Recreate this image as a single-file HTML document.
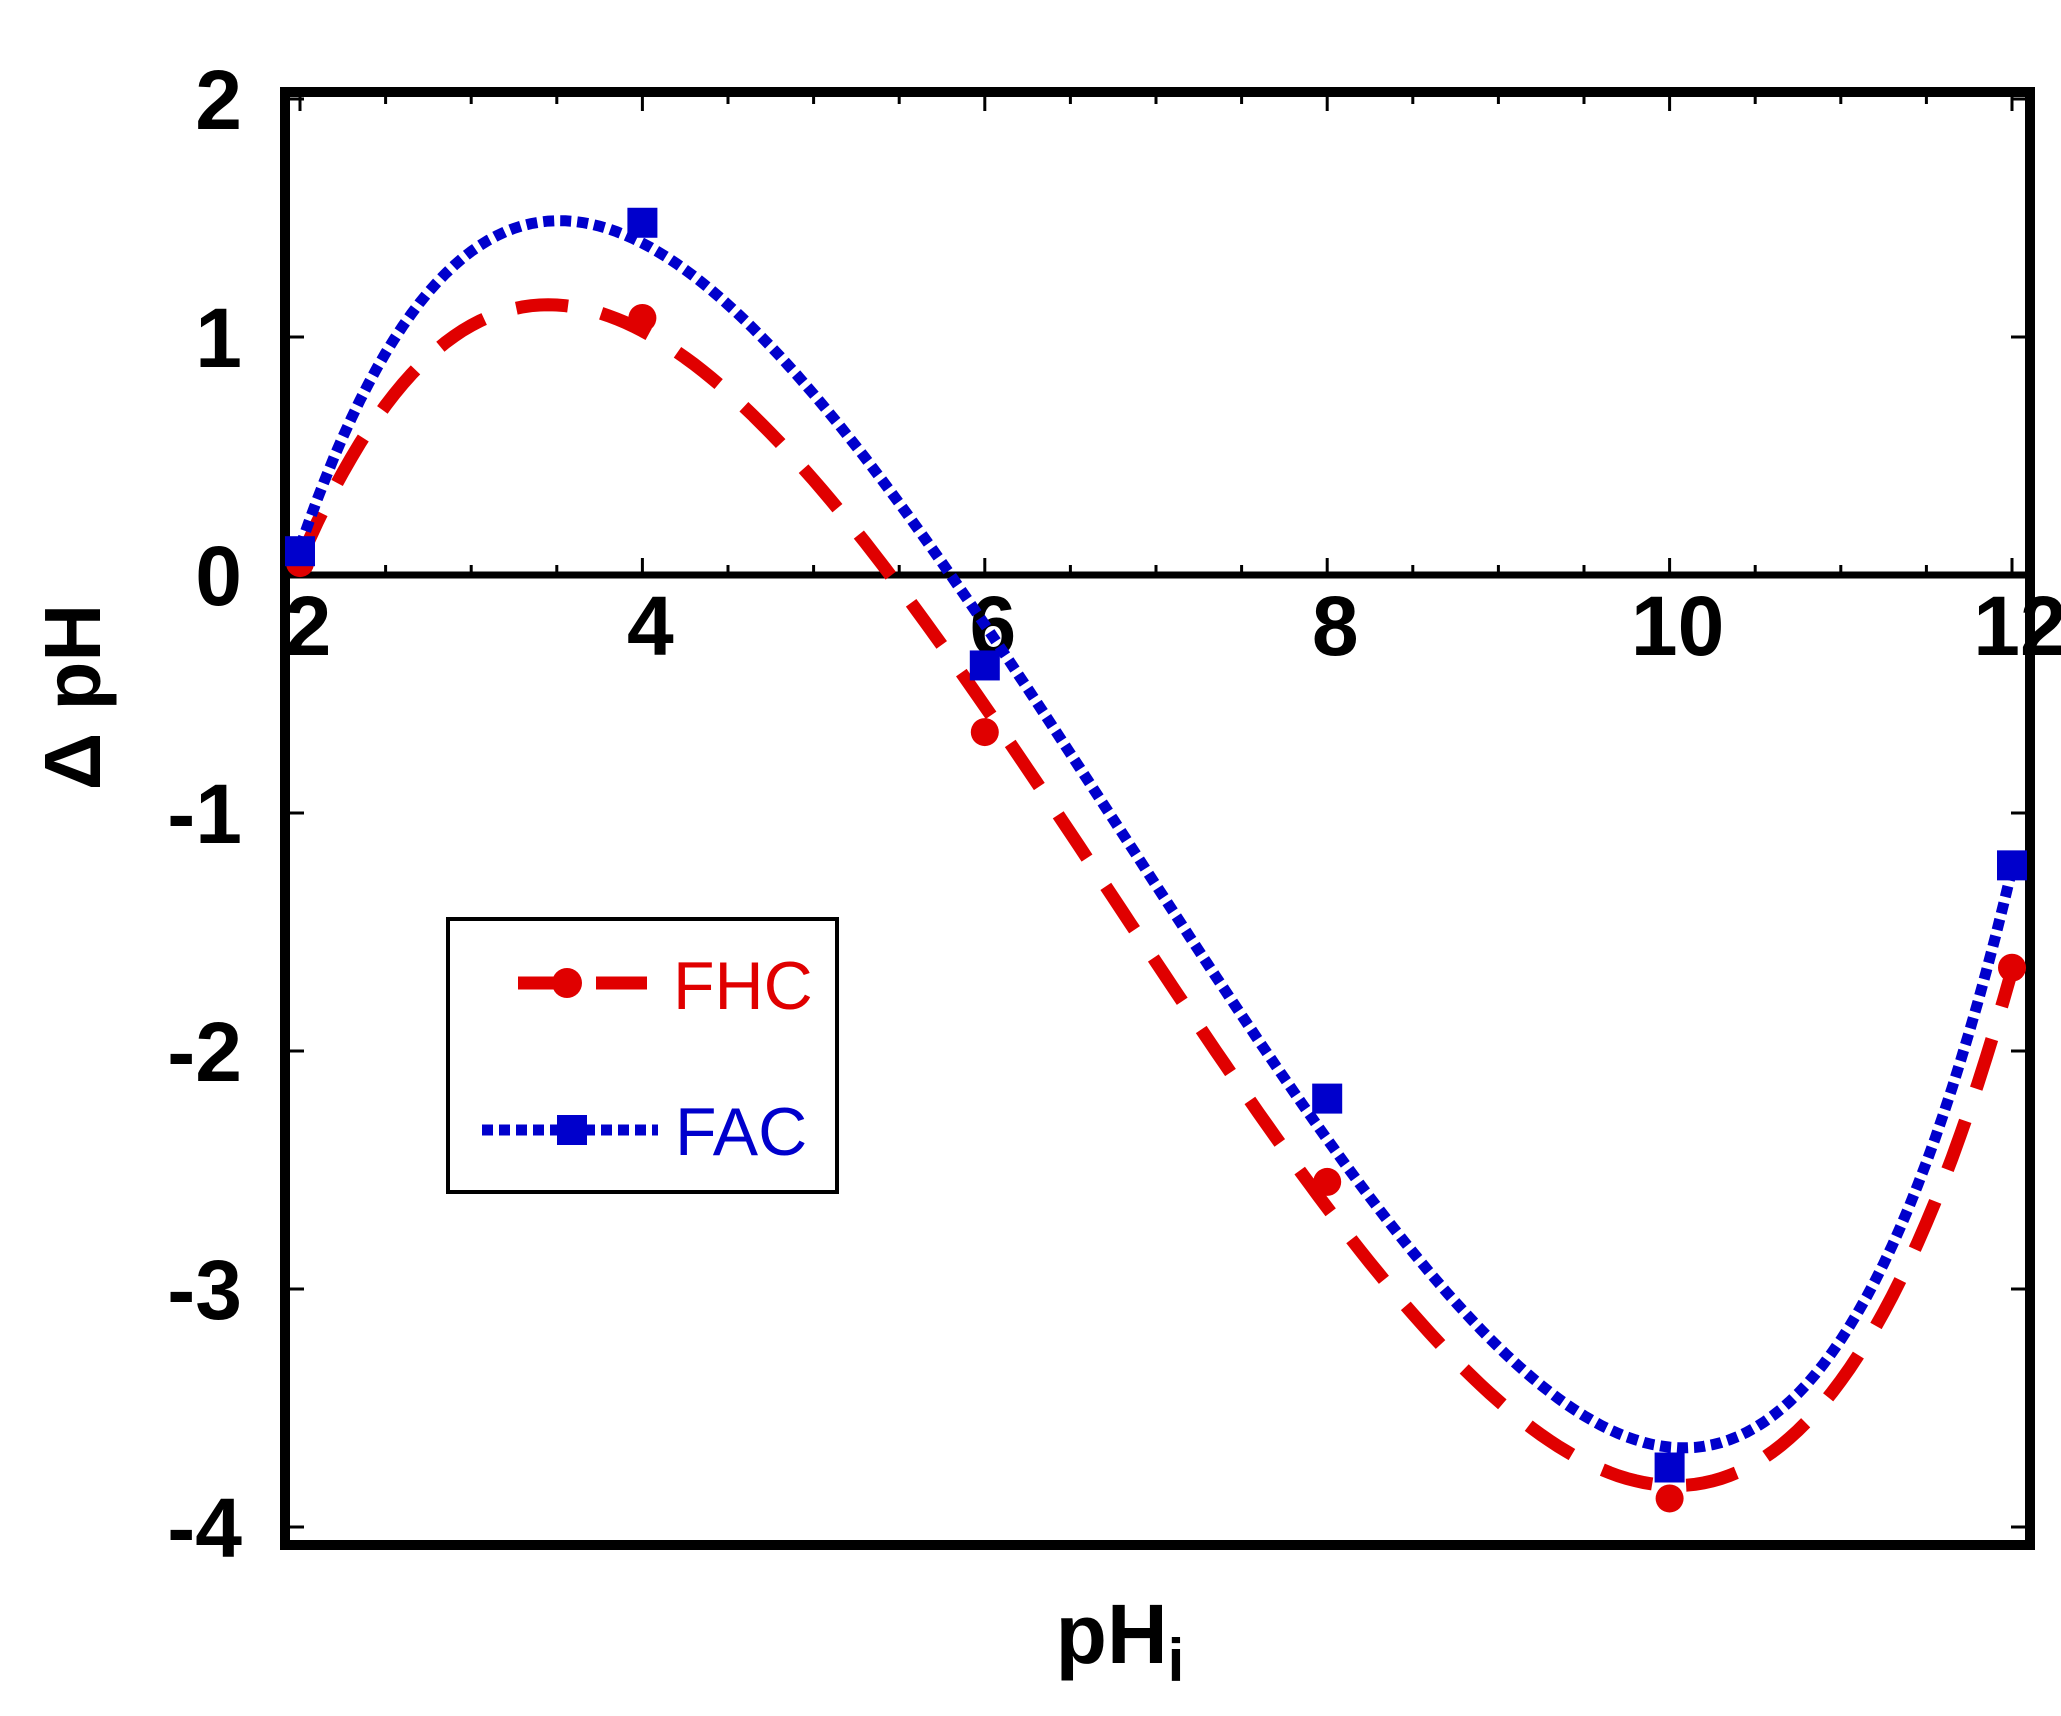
<!DOCTYPE html>
<html><head><meta charset="utf-8"><style>
html,body{margin:0;padding:0;background:#fff;}
svg{display:block;font-family:"Liberation Sans",Arial,sans-serif;}
</style></head><body>
<svg id="chart" width="2061" height="1716" viewBox="0 0 2061 1716" xmlns="http://www.w3.org/2000/svg">
<rect width="2061" height="1716" fill="#fff"/>
<g id="plot"></g>
</svg>
<script>
const xTicks = [2, 4, 6, 8, 10, 12];
const yTicks = [2, 1, 0, -1, -2, -3, -4];
const xValues = [2, 4, 6, 8, 10, 12];
const fhcValues = [0.05, 1.08, -0.66, -2.55, -3.88, -1.65];
const facValues = [0.1, 1.48, -0.38, -2.2, -3.75, -1.22];

const NS = 'http://www.w3.org/2000/svg';
const svg = document.getElementById('plot');
function X(v){ return 300 + (v - 2) * 171.2; }
function Y(v){ return 575 - v * 238; }
function mk(tag, attrs, parent){
  const e = document.createElementNS(NS, tag);
  for (const k in attrs) e.setAttribute(k, attrs[k]);
  (parent || svg).appendChild(e);
  return e;
}
function polyfit(xs, ys, deg){
  const n = deg + 1;
  const A = [], b = [];
  for (let i = 0; i < n; i++){ A.push(new Array(n).fill(0)); b.push(0); }
  xs.forEach((x, k) => {
    const t = (x - 7) / 5;
    for (let i = 0; i < n; i++){
      b[i] += ys[k] * Math.pow(t, i);
      for (let j = 0; j < n; j++) A[i][j] += Math.pow(t, i + j);
    }
  });
  for (let i = 0; i < n; i++){
    let p = i;
    for (let r = i + 1; r < n; r++) if (Math.abs(A[r][i]) > Math.abs(A[p][i])) p = r;
    [A[i], A[p]] = [A[p], A[i]]; [b[i], b[p]] = [b[p], b[i]];
    for (let r = i + 1; r < n; r++){
      const f = A[r][i] / A[i][i];
      for (let c = i; c < n; c++) A[r][c] -= f * A[i][c];
      b[r] -= f * b[i];
    }
  }
  const c = new Array(n).fill(0);
  for (let i = n - 1; i >= 0; i--){
    let s = b[i];
    for (let j = i + 1; j < n; j++) s -= A[i][j] * c[j];
    c[i] = s / A[i][i];
  }
  return x => c.reduce((s, ci, i) => s + ci * Math.pow((x - 7) / 5, i), 0);
}
function curvePath(ys){
  const f4 = polyfit(xValues, ys, 4);
  const f5 = polyfit(xValues, ys, 5);
  let d = '';
  for (let i = 0; i <= 200; i++){
    const x = 2 + i * 10 / 200;
    const y = 0.65 * f4(x) + 0.35 * f5(x);
    d += (i ? 'L' : 'M') + X(x).toFixed(1) + ' ' + Y(y).toFixed(1);
  }
  return d;
}

const frame = mk('rect', {x:285, y:92, width:1745, height:1453, fill:'none', stroke:'#000', 'stroke-width':10});


const zl = mk('line', {x1:285, x2:2030, y1:Y(0), y2:Y(0), stroke:'#000', 'stroke-width':7});



for (let v = 2; v <= 12; v += 0.5){
  const major = Number.isInteger(v / 2);
  const len = major ? 14 : 7;
  const t1 = mk('line', {x1:X(v), x2:X(v), y1:Y(0) - 3, y2:Y(0) - 3 - len, stroke:'#000', 'stroke-width':3});
  
  
  const t2 = mk('line', {x1:X(v), x2:X(v), y1:97, y2:97 + len, stroke:'#000', 'stroke-width':3});
  
  
}
xTicks.forEach(v => {
  const t = mk('text', {x:X(v) + 8, y:655, 'font-size':84, 'font-weight':'bold', 'text-anchor':'middle', fill:'#000'});
  t.textContent = v;
  
  
});
yTicks.forEach(v => {
  const t = mk('text', {x:242, y:Y(v) + 30, 'font-size':84, 'font-weight':'bold', 'text-anchor':'end', fill:'#000'});
  t.textContent = v;
  
  
  const tk = mk('line', {x1:290, x2:304, y1:Y(v), y2:Y(v), stroke:'#000', 'stroke-width':3});
  
  
  const tk2 = mk('line', {x1:2011, x2:2025, y1:Y(v), y2:Y(v), stroke:'#000', 'stroke-width':3});
  
  
});

const fhcLine = mk('path', {d:curvePath(fhcValues), fill:'none', stroke:'#e00000', 'stroke-width':13, 'stroke-dasharray':'52 34'});


const facLine = mk('path', {d:curvePath(facValues), fill:'none', stroke:'#0000cc', 'stroke-width':11, 'stroke-dasharray':'11 6'});



xValues.forEach((x, i) => {
  const c = mk('circle', {cx:X(x), cy:Y(fhcValues[i]), r:14, fill:'#e00000'});
  
  
});
xValues.forEach((x, i) => {
  const s = mk('rect', {x:X(x) - 15, y:Y(facValues[i]) - 15, width:30, height:30, fill:'#0000cc'});
  
  
});
</script>
<svg style="position:absolute;left:0;top:0" width="2061" height="1716">
<g font-family="Liberation Sans, Arial, sans-serif">
  <rect x="448" y="919" width="389" height="273" fill="#fff" stroke="#000" stroke-width="4"/>
  <g>
    <line x1="518" x2="567" y1="983" y2="983" stroke="#e00000" stroke-width="13"/>
    <circle cx="567" cy="983" r="15" fill="#e00000"/>
    <line x1="596" x2="647" y1="983" y2="983" stroke="#e00000" stroke-width="13"/>
    <text x="673" y="1009" font-size="68" fill="#e00000">FHC</text>
  </g>
  <g>
    <line x1="482" x2="658" y1="1130" y2="1130" stroke="#0000cc" stroke-width="11" stroke-dasharray="11 6"/>
    <rect x="557" y="1115" width="30" height="30" fill="#0000cc"/>
    <text x="675" y="1155" font-size="68" fill="#0000cc">FAC</text>
  </g>
</g>
<text transform="translate(100,697) rotate(-90)" text-anchor="middle" font-size="80" font-weight="bold" font-family="Liberation Sans, DejaVu Sans, sans-serif">Δ pH</text>
<text x="1120" y="1663" text-anchor="middle" font-size="84" font-weight="bold" font-family="Liberation Sans, sans-serif">pH<tspan font-size="60" dy="18">i</tspan></text>
</svg>
</body></html>
